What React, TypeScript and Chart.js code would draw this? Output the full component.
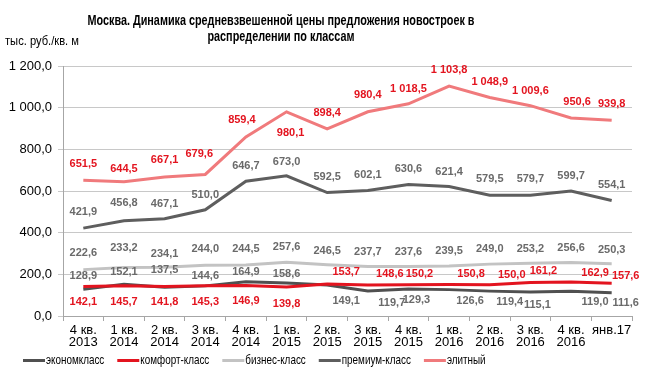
import React, { useEffect, useRef } from "react";
import { Chart, registerables } from "chart.js";

Chart.register(...registerables);

const categories: string[][] = [
  ["4 кв.", "2013"], ["1 кв.", "2014"], ["2 кв.", "2014"], ["3 кв.", "2014"],
  ["4 кв.", "2014"], ["1 кв.", "2015"], ["2 кв.", "2015"], ["3 кв.", "2015"],
  ["4 кв.", "2015"], ["1 кв.", "2016"], ["2 кв.", "2016"], ["3 кв.", "2016"],
  ["4 кв.", "2016"], ["янв.17"],
];

const economy = [128.9, 152.1, 137.5, 144.6, 164.9, 158.6, 149.1, 119.7, 129.3, 126.6, 119.4, 115.1, 119.0, 111.6];
const comfort = [142.1, 145.7, 141.8, 145.3, 146.9, 139.8, 153.7, 148.6, 150.2, 150.8, 150.0, 161.2, 162.9, 157.6];
const business = [222.6, 233.2, 234.1, 244.0, 244.5, 257.6, 246.5, 237.7, 237.6, 239.5, 249.0, 253.2, 256.6, 250.3];
const premium = [421.9, 456.8, 467.1, 510.0, 646.7, 673.0, 592.5, 602.1, 630.6, 621.4, 579.5, 579.7, 599.7, 554.1];
const elite = [651.5, 644.5, 667.1, 679.6, 859.4, 980.1, 898.4, 980.4, 1018.5, 1103.8, 1048.9, 1009.6, 950.6, 939.8];

const seriesNames = ["экономкласс", "комфорт-класс", "бизнес-класс", "премиум-класс", "элитный"];

const yMin = 0;
const yMax = 1200;
const yStep = 200;

const titleLines = [
  "Москва. Динамика средневзвешенной цены предложения новостроек в",
  "распределении по классам",
];
const unitLabel = "тыс. руб./кв. м";

// styles
const SANS = "'Liberation Sans', Arial, sans-serif";
const colors = ["#505050", "#e3141f", "#c3c3c3", "#5e5e5e", "#f07a7c"];
const labelColors = ["#6a6a6a", "#e3141f", "#6a6a6a", "#6a6a6a", "#e3141f"];
const NARROW_SCALE = 0.76;

// label offsets (dx, dy) in px, per series
const labelDX = [
  [0, 0, 0, 0, 0, 0, 19, 24, 8, 21, 20, 7, 24, 14],
  [0, 0, 0, 0, 0, 0, 19, 22, 11, 22, 22, 13, 24, 14],
  [0, 0, 0, 0, 0, 0, 0, 0, 0, 0, 0, 0, 0, 0],
  [0, 0, 0, 0, 0, 0, 0, 0, 0, 0, 0, 0, 0, 0],
  [0, 0, 0, -6, -4, 4, 0, 0, 0, 0, 0, 0, 6, 0],
];
const labelDY = [
  [-13, -12, -17, -10, -10, -9, 16, 12, 11, 11, 11, 13, 11, 10],
  [16, 16, 16, 16, 16, 17, -12, -11, -11, -11, -10, -11, -9, -7],
  [-17, -19, -13, -16, -16, -15, -14, -15, -15, -15, -15, -14, -15, -14],
  [-16, -18, -15, -15, -15, -14, -16, -16, -16, -15, -16, -16, -15, -16],
  [-16, -13, -17, -20, -17, 21, -16, -17, -15, -16, -16, -15, -16, -16],
];

const fmt = (v: number, digits: number) => {
  const s = v.toFixed(digits);
  const [i, d] = s.split(".");
  const ii = i.replace(/\B(?=(\d{3})+(?!\d))/g, " ");
  return d !== undefined ? ii + "," + d : ii;
};

const drawScaled = (ctx: CanvasRenderingContext2D, text: string, x: number, y: number, sx: number) => {
  ctx.save();
  ctx.translate(x, y);
  ctx.scale(sx, 1);
  ctx.fillText(text, 0, 0);
  ctx.restore();
};

const overlayPlugin = {
  id: "overlay",
  afterDatasetsDraw(chart: any) {
    const ctx = chart.ctx as CanvasRenderingContext2D;
    ctx.save();
    ctx.textAlign = "center";
    ctx.textBaseline = "middle";
    chart.data.datasets.forEach((ds: any, i: number) => {
      const meta = chart.getDatasetMeta(i);
      ctx.fillStyle = labelColors[i];
      ctx.font = "bold 11px " + SANS;
      meta.data.forEach((pt: any, j: number) => {
        const v = ds.data[j];
        ctx.fillText(fmt(v, 1), pt.x + labelDX[i][j], pt.y + labelDY[i][j]);
      });
    });
    ctx.restore();
  },
  afterDraw(chart: any) {
    const ctx = chart.ctx as CanvasRenderingContext2D;
    ctx.save();
    // title
    ctx.fillStyle = "#000";
    ctx.textAlign = "center";
    ctx.textBaseline = "middle";
    ctx.font = "bold 14px " + SANS;
    const w0 = ctx.measureText(titleLines[0]).width;
    const tsx = 387 / w0;
    drawScaled(ctx, titleLines[0], 281, 21, tsx);
    drawScaled(ctx, titleLines[1], 281, 37, tsx);
    // unit
    ctx.textAlign = "left";
    ctx.font = "13px " + SANS;
    drawScaled(ctx, unitLabel, 5, 41, 74 / ctx.measureText(unitLabel).width);
    // legend
    ctx.font = "13px " + SANS;
    let x = 23;
    const y = 360.5;
    chart.data.datasets.forEach((ds: any, i: number) => {
      ctx.strokeStyle = colors[i];
      ctx.lineWidth = 3;
      ctx.beginPath();
      ctx.moveTo(x, y);
      ctx.lineTo(x + 22, y);
      ctx.stroke();
      ctx.fillStyle = "#000";
      drawScaled(ctx, ds.label, x + 23, y, NARROW_SCALE);
      x += 23 + ctx.measureText(ds.label).width * NARROW_SCALE + 13;
    });
    ctx.restore();
  },
};

export default function App() {
  const ref = useRef<HTMLCanvasElement | null>(null);
  useEffect(() => {
    if (!ref.current) return;
    const series = [economy, comfort, business, premium, elite];
    const chart = new Chart(ref.current, {
      type: "line",
      data: {
        labels: categories,
        datasets: series.map((d, i) => ({
          label: seriesNames[i],
          data: d,
          borderColor: colors[i],
          backgroundColor: colors[i],
          borderWidth: 3,
          pointRadius: 0,
          tension: 0,
          order: [1, 0, 2, 3, 4][i],
        })),
      },
      options: {
        responsive: false,
        animation: false,
        layout: { padding: { top: 66, right: 14, left: 0, bottom: 0 } },
        plugins: { legend: { display: false }, tooltip: { enabled: false }, title: { display: false } },
        scales: {
          x: {
            offset: true,
            grid: { offset: true, drawOnChartArea: false, color: "#a6a6a6", tickLength: 5 },
            border: { color: "#a6a6a6" },
            ticks: {
              color: "#000",
              font: { family: SANS, size: 13, lineHeight: 0.9 },
              padding: 4,
              maxRotation: 0,
              autoSkip: false,
            },
            afterFit: (s: any) => { s.height = 74; },
          },
          y: {
            min: yMin,
            max: yMax,
            grid: { color: "#c8c8c8", tickLength: 5 },
            border: { color: "#a6a6a6" },
            ticks: {
              stepSize: yStep,
              color: "#000",
              font: { family: SANS, size: 13 },
              padding: 6,
              callback: (v: any) => fmt(Number(v), 1),
            },
            afterFit: (s: any) => { s.width = 63; },
          },
        },
      },
      plugins: [overlayPlugin],
    });
    return () => chart.destroy();
  }, []);
  return (
    <div style={{ position: "absolute", left: 0, top: 0, width: 646, height: 390, background: "#fff" }}>
      <canvas ref={ref} width={646} height={390} style={{ display: "block" }} />
    </div>
  );
}
